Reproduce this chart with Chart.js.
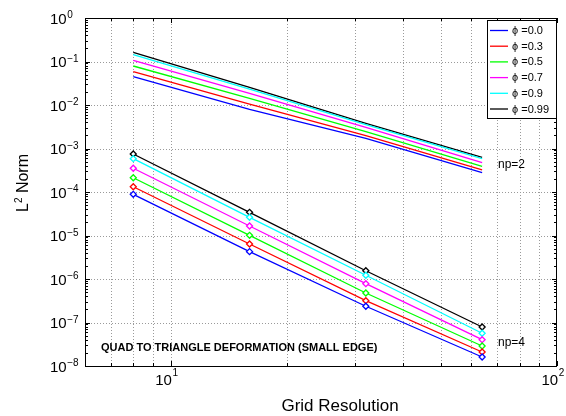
<!DOCTYPE html>
<html>
<head>
<meta charset="utf-8">
<script src="https://cdn.jsdelivr.net/npm/chart.js@4/dist/chart.umd.min.js"></script>
<style>
  html, body { margin: 0; padding: 0; background: #ffffff; }
  canvas { display: block; }
</style>
</head>
<body>
<canvas id="chart" width="566" height="416"></canvas>
<script>
// Grid resolutions at which the error was measured
const resolution = [8, 16, 32, 64];

// Legend entries (deformation parameter) and line colours
const phiLabels = ['0.0', '0.3', '0.5', '0.7', '0.9', '0.99'];
const phiColors = ['#0000ff', '#ff0000', '#00ff00', '#ff00ff', '#00ffff', '#000000'];

// L2 error, polynomial order np=2
const np2Phi000 = [0.0448, 0.00796, 0.00171, 0.000278];
const np2Phi030 = [0.0583, 0.01054, 0.00197, 0.000321];
const np2Phi050 = [0.0788, 0.01426, 0.00243, 0.000390];
const np2Phi070 = [0.106, 0.0186, 0.00307, 0.000472];
const np2Phi090 = [0.143, 0.0233, 0.00352, 0.000583];
const np2Phi099 = [0.163, 0.0255, 0.00379, 0.000628];

// L2 error, polynomial order np=4
const np4Phi000 = [8.85e-5, 4.25e-6, 2.36e-7, 1.61e-8];
const np4Phi030 = [1.32e-4, 6.38e-6, 3.17e-7, 2.10e-8];
const np4Phi050 = [2.13e-4, 1.01e-5, 4.77e-7, 2.88e-8];
const np4Phi070 = [3.51e-4, 1.65e-5, 7.80e-7, 4.03e-8];
const np4Phi090 = [5.83e-4, 2.62e-5, 1.22e-6, 5.65e-8];
const np4Phi099 = [7.48e-4, 3.41e-5, 1.55e-6, 7.88e-8];

// Axis limits and labelled decades
const xRange = [6, 100];
const yRange = [1e-8, 1];
const xTickExponents = [1, 2];
const yTickExponents = [0, -1, -2, -3, -4, -5, -6, -7, -8];

const np2Series = [np2Phi000, np2Phi030, np2Phi050, np2Phi070, np2Phi090, np2Phi099];
const np4Series = [np4Phi000, np4Phi030, np4Phi050, np4Phi070, np4Phi090, np4Phi099];

const FONT = "'Liberation Sans', Arial, Helvetica, sans-serif";

function toPoints(values) {
  return resolution.map((r, i) => ({ x: r, y: values[i] }));
}

const datasets = [];
np2Series.forEach((vals, i) => {
  datasets.push({
    label: 'ϕ =' + phiLabels[i],
    data: toPoints(vals),
    borderColor: phiColors[i],
    borderWidth: 1.3,
    pointRadius: 0,
    tension: 0,
    fill: false
  });
});
np4Series.forEach((vals, i) => {
  datasets.push({
    label: 'np4 ϕ =' + phiLabels[i],
    data: toPoints(vals),
    borderColor: phiColors[i],
    borderWidth: 1.3,
    pointStyle: 'rectRot',
    pointRadius: 3,
    pointBorderWidth: 1.3,
    pointBackgroundColor: '#ffffff',
    pointBorderColor: phiColors[i],
    tension: 0,
    fill: false
  });
});

// Values of every decade subdivision (1..9 x 10^n) inside a range
function logSubdivisions(min, max) {
  const out = [];
  for (let e = Math.floor(Math.log10(min)); e <= Math.ceil(Math.log10(max)); e++) {
    for (let m = 1; m <= 9; m++) {
      const v = m * Math.pow(10, e);
      if (v >= min * 0.999 && v <= max * 1.001) out.push({ v, major: m === 1 });
    }
  }
  return out;
}

// Draws "10" with a raised exponent
function drawPower(ctx, x, baseline, exp, baseSize, expSize, expRaise) {
  ctx.font = baseSize + 'px ' + FONT;
  ctx.textBaseline = 'alphabetic';
  ctx.textAlign = 'left';
  ctx.fillText('10', x, baseline);
  const w = ctx.measureText('10').width;
  ctx.font = expSize + 'px ' + FONT;
  const expText = exp < 0 ? '\u2212' + Math.abs(exp) : String(exp);
  ctx.fillText(expText, x + w + 0.5, baseline - expRaise);
}

const gridPlugin = {
  id: 'dottedGrid',
  beforeDatasetsDraw(chart) {
    const { ctx, chartArea: a, scales: { x, y } } = chart;
    ctx.save();
    ctx.strokeStyle = '#9a9a9a';
    ctx.lineWidth = 1;
    ctx.setLineDash([1, 2]);
    logSubdivisions(xRange[0], xRange[1]).forEach(t => {
      const px = Math.round(x.getPixelForValue(t.v)) + 0.5;
      if (px <= a.left + 1 || px >= a.right - 1) return;
      ctx.beginPath();
      ctx.moveTo(px, a.top);
      ctx.lineTo(px, a.bottom);
      ctx.stroke();
    });
    yTickExponents.forEach(e => {
      const py = Math.round(y.getPixelForValue(Math.pow(10, e))) + 0.5;
      if (py <= a.top + 1 || py >= a.bottom - 1) return;
      ctx.beginPath();
      ctx.moveTo(a.left, py);
      ctx.lineTo(a.right, py);
      ctx.stroke();
    });
    ctx.restore();
  }
};

const framePlugin = {
  id: 'frameAndText',
  afterDraw(chart) {
    const { ctx, chartArea: a, scales: { x, y } } = chart;
    ctx.save();
    ctx.setLineDash([]);
    ctx.strokeStyle = '#000000';
    ctx.fillStyle = '#000000';
    ctx.lineWidth = 1;

    // axes box
    ctx.strokeRect(a.left + 0.5, a.top + 0.5, a.right - a.left - 1, a.bottom - a.top);

    // inward tick marks on all four sides
    ctx.beginPath();
    logSubdivisions(xRange[0], xRange[1]).forEach(t => {
      const px = Math.round(x.getPixelForValue(t.v)) + 0.5;
      const len = t.major ? 5 : 3;
      ctx.moveTo(px, a.bottom); ctx.lineTo(px, a.bottom - len);
      ctx.moveTo(px, a.top); ctx.lineTo(px, a.top + len);
    });
    logSubdivisions(yRange[0], yRange[1]).forEach(t => {
      const py = Math.round(y.getPixelForValue(t.v)) + 0.5;
      const len = t.major ? 5 : 3;
      ctx.moveTo(a.left, py); ctx.lineTo(a.left + len, py);
      ctx.moveTo(a.right, py); ctx.lineTo(a.right - len, py);
    });
    ctx.stroke();

    // tick labels
    yTickExponents.forEach(e => {
      const py = y.getPixelForValue(Math.pow(10, e));
      drawPower(ctx, 50, py + 5.5, e, 15, 10, 5.5);
    });
    xTickExponents.forEach(e => {
      const px = x.getPixelForValue(Math.pow(10, e));
      drawPower(ctx, px - 15.5, a.bottom + 19, e, 15, 10, 9);
    });

    // axis titles
    ctx.textBaseline = 'alphabetic';
    ctx.font = '17px ' + FONT;
    ctx.textAlign = 'center';
    ctx.fillText('Grid Resolution', 340, 411);

    ctx.save();
    ctx.translate(28, 183);
    ctx.rotate(-Math.PI / 2);
    ctx.font = '16px ' + FONT;
    const wL = ctx.measureText('L').width;
    const wN = ctx.measureText(' Norm').width;
    ctx.font = '10px ' + FONT;
    const w2 = ctx.measureText('2').width;
    const total = wL + w2 + wN;
    let cx = -total / 2;
    ctx.textAlign = 'left';
    ctx.font = '16px ' + FONT;
    ctx.fillText('L', cx, 0);
    cx += wL;
    ctx.font = '10px ' + FONT;
    ctx.fillText('2', cx, -6);
    cx += w2;
    ctx.font = '16px ' + FONT;
    ctx.fillText(' Norm', cx, 0);
    ctx.restore();

    // in-plot annotations
    ctx.textAlign = 'left';
    ctx.font = 'bold 11px ' + FONT;
    ctx.fillText('QUAD TO TRIANGLE DEFORMATION (SMALL EDGE)', 101, 351);
    ctx.font = '12px ' + FONT;
    ctx.fillText('np=2', 498, 168);
    ctx.fillText('np=4', 498, 346);

    // legend box
    const lx = 487, ly = 20, lw = 69, lh = 98;
    ctx.fillStyle = '#ffffff';
    ctx.fillRect(lx, ly, lw, lh);
    ctx.strokeStyle = '#000000';
    ctx.lineWidth = 1;
    ctx.strokeRect(lx + 0.5, ly + 0.5, lw, lh);
    ctx.font = '11px ' + FONT;
    ctx.textBaseline = 'middle';
    phiLabels.forEach((lab, i) => {
      const ry = 30.5 + i * 15.7;
      ctx.strokeStyle = phiColors[i];
      ctx.lineWidth = 1.3;
      ctx.beginPath();
      ctx.moveTo(490, ry);
      ctx.lineTo(508, ry);
      ctx.stroke();
      ctx.fillStyle = '#000000';
      ctx.fillText('ϕ =' + lab, 512, ry + 0.5);
    });
    ctx.restore();
  }
};

new Chart(document.getElementById('chart'), {
  type: 'line',
  data: { datasets },
  options: {
    responsive: false,
    devicePixelRatio: 1,
    animation: false,
    layout: { padding: { left: 85, right: 9, top: 18, bottom: 50 } },
    plugins: { legend: { display: false }, tooltip: { enabled: false } },
    scales: {
      x: { type: 'logarithmic', min: xRange[0], max: xRange[1], display: false },
      y: { type: 'logarithmic', min: yRange[0], max: yRange[1], display: false }
    }
  },
  plugins: [gridPlugin, framePlugin]
});
</script>
</body>
</html>
